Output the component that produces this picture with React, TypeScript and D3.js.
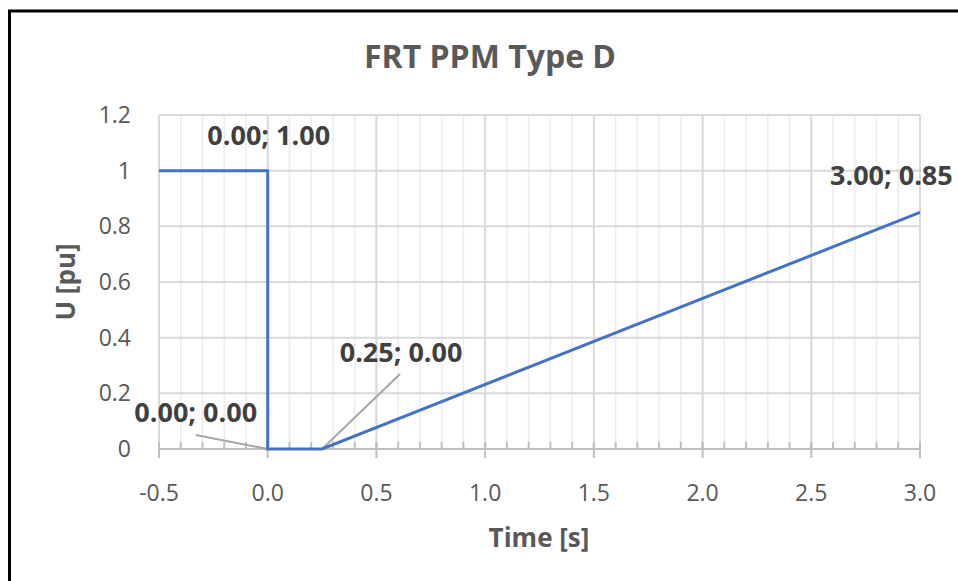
import React from "react";
import * as d3 from "d3";

const times = [-0.5, 0, 0, 0.25, 3.0];
const voltages = [1, 1, 0, 0, 0.85];
const xTicks = [-0.5, 0, 0.5, 1, 1.5, 2, 2.5, 3];
const yTicks = [0, 0.2, 0.4, 0.6, 0.8, 1, 1.2];
const labelIdx = [1, 2, 3, 4];
const labelTexts = ["0.00; 1.00", "0.00; 0.00", "0.25; 0.00", "3.00; 0.85"];

const W = 958, H = 581;
const FONT = "'Open Sans', 'Liberation Sans', sans-serif";

export default function App() {
  const x = d3.scaleLinear().domain([-0.5, 3]).range([159, 920]);
  const y = d3.scaleLinear().domain([0, 1.2]).range([449, 115]);
  const minorX = d3.range(-5, 31).map((i) => i / 10);
  const pts = times.map((t, i) => [t, voltages[i]] as [number, number]);
  const line = d3.line<[number, number]>().x((d) => x(d[0])).y((d) => y(d[1]));
  const fmtY = (v: number) => (v === 0 || v === 1 ? String(v) : v.toFixed(1));

  // label offsets relative to point (px): text position (baseline) and leader end
  const labelPos: { dx: number; dy: number; anchor: string; leader: number[] | null }[] = [
    { dx: 1, dy: -26, anchor: "middle", leader: null },
    { dx: -72, dy: -27, anchor: "middle", leader: [-72, -14] },
    { dx: 79, dy: -87, anchor: "middle", leader: [78, -75] },
    { dx: -90, dy: -27, anchor: "start", leader: null },
  ];

  return (
    <svg width={W} height={H} style={{ position: "absolute", left: 0, top: 0, background: "#fff" }}>
      <rect x={0} y={0} width={W} height={H} fill="#fff" />
      <rect x={9.5} y={11} width={W + 20} height={H + 20} fill="none" stroke="#000" strokeWidth={3} />
      <text x={490} y={68} textAnchor="middle" fontFamily={FONT} fontWeight="bold" fontSize={32} fill="#595959">
        FRT PPM Type D
      </text>
      {minorX.map((v, i) => (
        <line key={"mx" + i} x1={x(v)} x2={x(v)} y1={y(1.2)} y2={y(0)} stroke="#ececec" strokeWidth={1.5} />
      ))}
      {yTicks.map((v) => (
        <line key={"gy" + v} x1={x(-0.5)} x2={x(3)} y1={y(v)} y2={y(v)} stroke="#d9d9d9" strokeWidth={2} />
      ))}
      {xTicks.map((v) => (
        <line key={"gx" + v} x1={x(v)} x2={x(v)} y1={y(1.2)} y2={y(0)} stroke="#d9d9d9" strokeWidth={2} />
      ))}
      <line x1={x(-0.5)} x2={x(3)} y1={y(0)} y2={y(0)} stroke="#bfbfbf" strokeWidth={2} />
      {minorX.map((v, i) => (
        <line key={"mt" + i} x1={x(v)} x2={x(v)} y1={y(0) - 7} y2={y(0)} stroke="#bfbfbf" strokeWidth={2} />
      ))}
      {xTicks.map((v) => (
        <line key={"tx" + v} x1={x(v)} x2={x(v)} y1={y(0) - 7} y2={y(0) + 9} stroke="#bfbfbf" strokeWidth={2} />
      ))}
      {xTicks.map((v) => (
        <text key={"lx" + v} x={x(v)} y={501} textAnchor="middle" fontFamily={FONT} fontSize={23} fill="#595959">
          {v.toFixed(1)}
        </text>
      ))}
      {yTicks.map((v) => (
        <text key={"ly" + v} x={131} y={y(v) + 8} textAnchor="end" fontFamily={FONT} fontSize={23} fill="#595959">
          {fmtY(v)}
        </text>
      ))}
      <text x={539} y={547} textAnchor="middle" fontFamily={FONT} fontWeight="bold" fontSize={26} fill="#595959">
        Time [s]
      </text>
      <text transform={`translate(75,282) rotate(-90)`} textAnchor="middle" fontFamily={FONT} fontWeight="bold" fontSize={26} fill="#595959">
        U [pu]
      </text>
      {labelIdx.map((pi, k) => {
        const lp = labelPos[k];
        if (!lp.leader) return null;
        const px = x(pts[pi][0]), py = y(pts[pi][1]);
        return (
          <line key={"ld" + k} x1={px} y1={py} x2={px + lp.leader[0]} y2={py + lp.leader[1]} stroke="#a6a6a6" strokeWidth={2} />
        );
      })}
      <path d={line(pts) || ""} fill="none" stroke="#4472c4" strokeWidth={3} />
      {labelIdx.map((pi, k) => {
        const lp = labelPos[k];
        const px = x(pts[pi][0]), py = y(pts[pi][1]);
        return (
          <text key={"dl" + k} x={px + lp.dx} y={py + lp.dy} textAnchor={lp.anchor}
            fontFamily={FONT} fontWeight="bold" fontSize={27} fill="#404040">
            {labelTexts[k]}
          </text>
        );
      })}
    </svg>
  );
}
